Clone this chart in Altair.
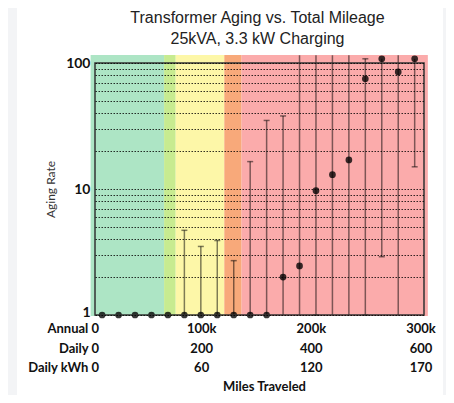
import altair as alt
import pandas as pd

# ---- data ----
miles = [6500, 21500, 36500, 51500, 66500, 81500, 96500, 111500, 126500, 141500,
         156500, 171500, 186500, 201500, 216500, 231500, 246500, 261500, 276500, 291500]
aging = [1, 1, 1, 1, 1, 1, 1, 1, 1, 1,
         1, 2.0, 2.45, 9.7, 13, 17, 75, 108, 85, 108]
err_low = [1, 1, 1, 1, 1, 1, 1, 1, 1, 1,
           1, 1, 1, 1, 1, 1, 1, 2.9, 1, 15]
err_high = [1, 1, 1, 1, 1, 4.7, 3.5, 3.9, 2.7, 16.5,
            35, 38, 115, 115, 115, 115, 108, 108, 115, 108]

cap_miles = [81500, 96500, 111500, 126500, 141500, 156500, 171500,
             201500, 246500, 246500, 261500, 291500]
cap_values = [4.7, 3.5, 3.9, 2.7, 16.5, 35, 38,
              1, 108, 1, 2.9, 15]

zone_names = ["green", "lightgreen", "yellow", "orange", "red"]
zone_start = [-4000, 63000, 73600, 117900, 133700]
zone_end = [63000, 73600, 117900, 133700, 303500]
zone_colors = ["#ade5c5", "#c7eb90", "#fdf7a8", "#f8a97a", "#fbabab"]

tick_miles = [0, 100000, 200000, 300000]
tick_annual = ["Annual 0", "100k", "200k", "300k"]
tick_daily = ["Daily 0", "200", "400", "600"]
tick_kwh = ["Daily kWh 0", "60", "120", "170"]

title_lines = ["Transformer Aging vs. Total Mileage", "25kVA, 3.3 kW Charging"]

grid_values = [1, 2, 3, 4, 5, 6, 7, 8, 9, 10, 20, 30, 40, 50, 60, 70, 80, 90, 100]

W, H = 329, 252

pts = pd.DataFrame({"miles": miles, "aging": aging, "lo": err_low, "hi": err_high})
bars = pts[pts["hi"] > pts["lo"]]
caps = pd.DataFrame({"miles": cap_miles, "v": cap_values})
zones = pd.DataFrame({"zone": zone_names, "start": zone_start, "end": zone_end})
ticks = pd.DataFrame({
    "miles": tick_miles,
    "text": [f"{a}\n{d}\n{k}" for a, d, k in zip(tick_annual, tick_daily, tick_kwh)],
})

xs = alt.Scale(domain=[0, 300000], nice=False, zero=False)
ys = alt.Scale(type="log", domain=[1, 100], nice=False)

yaxis = alt.Axis(
    values=grid_values,
    labelExpr="(datum.value == 1 || datum.value == 10 || datum.value == 100) ? format(datum.value, 'd') : ''",
    grid=True, gridDash=[1.5, 1.5], gridColor="#000", gridOpacity=0.8, gridWidth=1,
    ticks=False, domain=False,
    labelFont="Lato", labelFontWeight="bold", labelFontSize=14, labelColor="#111",
    labelPadding=5, labelOverlap=False,
    labelOffset={"condition": {"test": "datum.value == 1", "value": -3}, "value": 0},
    title="Aging Rate", titleFont="Lato", titleFontSize=12, titleFontWeight="normal",
    titleColor="#333", titleX=-38, zindex=1,
)

one = pd.DataFrame({"a": [0]})

panel = alt.Chart(one).mark_rect(color="white").encode(
    x=alt.value(-78), x2=alt.value(348), y=alt.value(-59), y2=alt.value(345)
)

bands = alt.Chart(zones).mark_rect().encode(
    x=alt.X("start:Q", scale=xs, axis=None),
    x2="end:Q",
    y=alt.value(-8),
    y2=alt.value(H + 1),
    color=alt.Color("zone:N", scale=alt.Scale(domain=zone_names, range=zone_colors), legend=None),
)

errs = alt.Chart(bars).mark_rule(color="#000", opacity=0.5, strokeWidth=1.5, clip=False).encode(
    x=alt.X("miles:Q", scale=xs, axis=None),
    y=alt.Y("lo:Q", scale=ys, axis=yaxis),
    y2="hi:Q",
)

capm = alt.Chart(caps).mark_tick(color="#000", opacity=0.5, orient="horizontal",
                                 size=6, thickness=1.5).encode(
    x=alt.X("miles:Q", scale=xs, axis=None),
    y=alt.Y("v:Q", scale=ys, axis=yaxis),
)

points = alt.Chart(pts).mark_circle(color="#000", opacity=0.78, size=45).encode(
    x=alt.X("miles:Q", scale=xs, axis=None),
    y=alt.Y("aging:Q", scale=ys, axis=yaxis),
)

frame = alt.Chart(one).mark_rect(filled=False, stroke="#333", strokeWidth=1.5).encode(
    x=alt.value(0), x2=alt.value(W), y=alt.value(0), y2=alt.value(H)
)

zero_lbl = alt.Chart(ticks[ticks["miles"] == 0]).mark_text(
    align="right", baseline="middle", lineBreak="\n", lineHeight=19.5,
    font="Lato", fontWeight="bold", fontSize=13, color="#111", dx=4,
).encode(x=alt.X("miles:Q", scale=xs, axis=None), y=alt.value(H + 14), text="text:N")

other_lbl = alt.Chart(ticks[ticks["miles"] > 0]).mark_text(
    align="center", baseline="middle", lineBreak="\n", lineHeight=19.5,
    font="Lato", fontWeight="bold", fontSize=13, color="#111", dx=-3,
).encode(x=alt.X("miles:Q", scale=xs, axis=None), y=alt.value(H + 14), text="text:N")

xtitle = alt.Chart(pd.DataFrame({"t": ["Miles Traveled"]})).mark_text(
    align="center", baseline="middle", font="Lato", fontWeight="bold", fontSize=13, color="#111",
).encode(x=alt.value(W / 2 + 5), y=alt.value(H + 72), text="t:N")

title1 = alt.Chart(pd.DataFrame({"t": [title_lines[0]]})).mark_text(
    align="center", baseline="middle", font="Liberation Sans", fontSize=16, color="#222",
).encode(x=alt.value(W / 2 - 2), y=alt.value(-45), text="t:N")

title2 = alt.Chart(pd.DataFrame({"t": [title_lines[1]]})).mark_text(
    align="center", baseline="middle", font="Liberation Sans", fontSize=16, color="#222",
).encode(x=alt.value(W / 2 - 2), y=alt.value(-24), text="t:N")

chart = alt.layer(panel, bands, errs, capm, points, frame, zero_lbl, other_lbl, xtitle,
                  title1, title2).properties(
    width=W, height=H,
    autosize=alt.AutoSizeParams(type="none"),
    padding={"left": 87, "top": 55, "right": 22, "bottom": 80},
    background="#f3f4f6",
).resolve_scale(color="independent").configure_view(stroke=None)

chart.save("out.html", embed_options={"renderer": "svg", "actions": False})
